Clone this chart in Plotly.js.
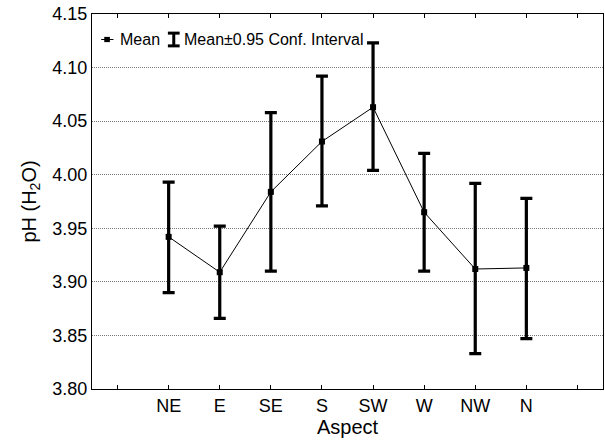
<!DOCTYPE html>
<html>
<head>
<meta charset="utf-8">
<script src="https://cdn.plot.ly/plotly-3.0.1.min.js"></script>
<style>html,body{margin:0;padding:0;background:#fff;}#chart{width:605px;height:443px;}</style>
</head>
<body>
<div id="chart"></div>
<script>
const categories = ['NE', 'E', 'SE', 'S', 'SW', 'W', 'NW', 'N'];
const meanValues = [3.942, 3.909, 3.984, 4.031, 4.063, 3.965, 3.912, 3.913];
const upperCI = [3.993, 3.952, 4.058, 4.092, 4.123, 4.020, 3.992, 3.978];
const lowerCI = [3.890, 3.866, 3.910, 3.971, 4.004, 3.910, 3.833, 3.847];
const yTicks = [3.80, 3.85, 3.90, 3.95, 4.00, 4.05, 4.10, 4.15];

const xIdx = categories.map((c, i) => i);

const fam = 'Liberation Sans, Arial, sans-serif';
const tickFont = {family: fam, size: 18, color: '#000'};
const titleFont = {family: fam, size: 20, color: '#000'};
const legFont = {family: fam, size: 16, color: '#000'};

const traces = [
  {
    x: xIdx, y: meanValues, type: 'scatter', mode: 'lines',
    line: {color: '#000', width: 1}, hoverinfo: 'skip', showlegend: false
  },
  {
    x: xIdx, y: meanValues, type: 'scatter', mode: 'markers',
    marker: {symbol: 'square', size: 6, color: '#000'},
    error_y: {
      type: 'data', symmetric: false,
      array: upperCI.map((u, i) => u - meanValues[i]),
      arrayminus: meanValues.map((m, i) => m - lowerCI[i]),
      color: '#000', thickness: 3.2, width: 6
    },
    showlegend: false
  }
];

const layout = {
  width: 605, height: 443,
  margin: {l: 92, r: 2, t: 14, b: 54},
  paper_bgcolor: '#fff', plot_bgcolor: '#fff',
  font: tickFont,
  showlegend: false,
  xaxis: {
    range: [-1.5, categories.length + 0.5],
    tickmode: 'array', tickvals: xIdx, ticktext: categories,
    ticks: 'inside', ticklen: 4, tickwidth: 1, tickcolor: '#000',
    minor: {tickmode: 'array', tickvals: [-1, categories.length], ticks: 'inside', ticklen: 4, tickwidth: 1, tickcolor: '#000', showgrid: false},
    showline: true, linecolor: '#000', linewidth: 1, mirror: 'ticks',
    showgrid: false, zeroline: false,
    tickfont: tickFont,
    title: {text: 'Aspect', font: titleFont, standoff: 4}
  },
  yaxis: {
    range: [3.80, 4.15],
    tickmode: 'array', tickvals: yTicks, ticktext: yTicks.map(v => v.toFixed(2)),
    ticks: '', showline: true, linecolor: '#000', linewidth: 1, mirror: true,
    showgrid: true, gridcolor: '#777', griddash: '1px,1px', gridwidth: 1,
    zeroline: false, tickfont: tickFont,
    title: {text: 'pH (H<sub>2</sub>O)', font: titleFont, standoff: 10}
  },
  shapes: [
    {type: 'line', xref: 'paper', yref: 'paper', x0: 0.018, x1: 0.042, y0: 0.932, y1: 0.932, line: {color: '#000', width: 1}},
    {type: 'rect', xref: 'paper', yref: 'paper', x0: 0.024, x1: 0.035, y0: 0.925, y1: 0.939, fillcolor: '#000', line: {width: 0}},
    {type: 'line', xref: 'paper', yref: 'paper', x0: 0.160, x1: 0.160, y0: 0.915, y1: 0.949, line: {color: '#000', width: 3}},
    {type: 'line', xref: 'paper', yref: 'paper', x0: 0.1485, x1: 0.1715, y0: 0.949, y1: 0.949, line: {color: '#000', width: 3}},
    {type: 'line', xref: 'paper', yref: 'paper', x0: 0.1485, x1: 0.1715, y0: 0.915, y1: 0.915, line: {color: '#000', width: 3}}
  ],
  annotations: [
    {xref: 'paper', yref: 'paper', x: 0.051, y: 0.932, xanchor: 'left', yanchor: 'middle', showarrow: false, text: 'Mean', font: legFont},
    {xref: 'paper', yref: 'paper', x: 0.176, y: 0.932, xanchor: 'left', yanchor: 'middle', showarrow: false, text: 'Mean±0.95 Conf. Interval', font: legFont}
  ]
};

Plotly.newPlot('chart', traces, layout, {displayModeBar: false, staticPlot: true});
</script>
</body>
</html>
